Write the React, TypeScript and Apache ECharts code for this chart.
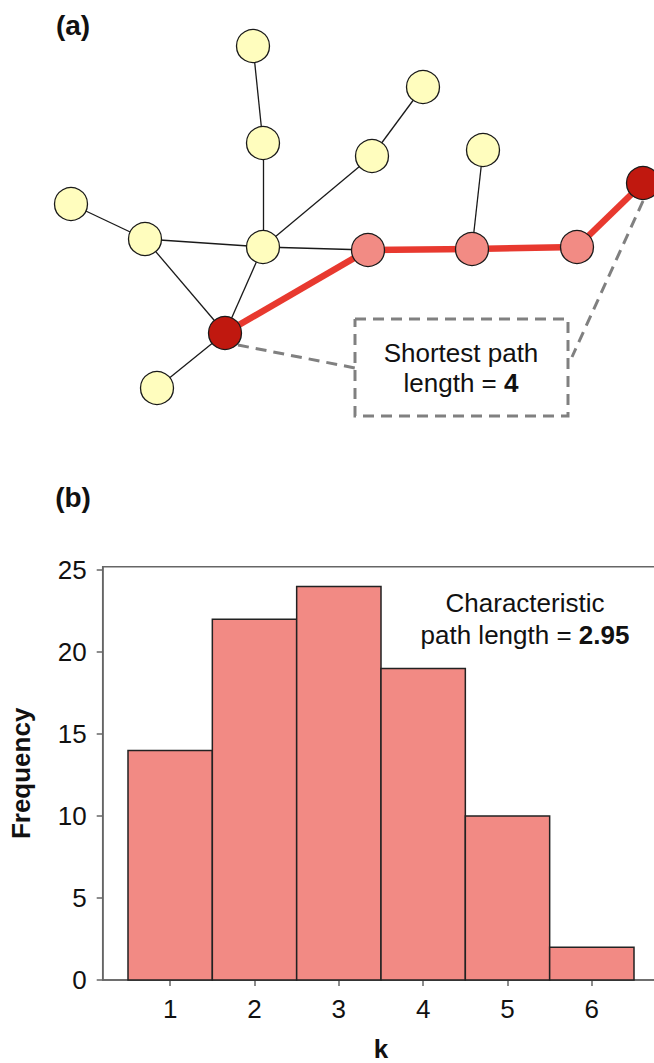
import React, { useEffect, useRef } from "react";
import * as echarts from "echarts";

const FONT = '"Liberation Sans", Arial, Helvetica, sans-serif';

// ---- Panel (a): network ----
const nodeNames = ["t0", "t1", "hub", "left", "l2", "r1", "r2", "p1", "p2", "p3", "t2", "end", "start", "bot"];
const nodeX = [253, 263, 263, 71, 145, 372, 423, 368, 472, 577, 483, 643, 225, 157];
const nodeY = [46, 143, 247, 204, 239, 156, 87, 250, 249, 247, 150, 183, 333, 388];
const nodeRole = ["plain", "plain", "plain", "plain", "plain", "plain", "plain", "path", "path", "path", "plain", "end", "end", "plain"];

const edgeSource = ["t0", "t1", "hub", "l2", "l2", "hub", "hub", "r1", "hub", "p2", "start", "start", "p1", "p2", "p3"];
const edgeTarget = ["t1", "hub", "l2", "left", "start", "start", "r1", "r2", "p1", "t2", "bot", "p1", "p2", "p3", "end"];
const edgeOnPath = [false, false, false, false, false, false, false, false, false, false, false, true, true, true, true];

const boxX = [355, 568];
const boxY = [319, 416];
const leaderLeft = [[238, 345], [355, 368]];
const leaderRight = [[643, 201], [572, 357]];

// ---- Panel (b): histogram ----
const kValues = [1, 2, 3, 4, 5, 6];
const frequency = [14, 22, 24, 19, 10, 2];
const yTicks = [0, 5, 10, 15, 20, 25];

const roleColor: Record<string, string> = {
  plain: "#FFFDBE",
  path: "#F28B84",
  end: "#C0180F",
};

export default function App() {
  const ref = useRef<HTMLDivElement>(null);

  useEffect(() => {
    if (!ref.current) return;
    const chart = echarts.init(ref.current, null, { renderer: "svg" });

    const pos: Record<string, [number, number]> = {};
    nodeNames.forEach((n, i) => (pos[n] = [nodeX[i], nodeY[i]]));

    const edgeData = edgeSource.map((s, i) => ({
      coords: [pos[s], pos[edgeTarget[i]]],
      lineStyle: edgeOnPath[i]
        ? { color: "#E8392F", width: 6.5, opacity: 1 }
        : { color: "#1a1a1a", width: 1.3, opacity: 1 },
    }));

    const nodeData = nodeNames.map((n, i) => ({
      name: n,
      value: [nodeX[i], nodeY[i]],
      itemStyle: { color: roleColor[nodeRole[i]], borderColor: "#1a1a1a", borderWidth: 1.3, opacity: 1 },
    }));

    const boxCoords = [
      [boxX[0], boxY[0]],
      [boxX[1], boxY[0]],
      [boxX[1], boxY[1]],
      [boxX[0], boxY[1]],
      [boxX[0], boxY[0]],
    ];

    const dashStyle = { color: "#808080", width: 3, type: [11, 7] as any, opacity: 1 };

    const option: any = {
      animation: false,
      backgroundColor: "#ffffff",
      textStyle: { fontFamily: FONT },
      grid: [
        { left: 0, top: 0, width: 654, height: 440, show: false, outerBoundsMode: "none", containLabel: false },
        {
          left: 102.7,
          top: 566.7,
          width: 556.6,
          height: 413.3,
          show: true,
          outerBoundsMode: "none",
          containLabel: false,
          borderColor: "#666666",
          borderWidth: 1.5,
          backgroundColor: "transparent",
        },
      ],
      xAxis: [
        { gridIndex: 0, type: "value", min: 0, max: 654, show: false },
        {
          gridIndex: 1,
          type: "value",
          min: 0.2,
          max: 6.8,
          interval: 0.2,
          name: "k",
          nameLocation: "middle",
          nameGap: 56,
          nameTextStyle: { fontFamily: FONT, fontSize: 26, fontWeight: "bold", color: "#111" },
          axisLine: { show: true, lineStyle: { color: "#666666", width: 1.5 } },
          axisTick: { show: true, length: 6, customValues: kValues, lineStyle: { color: "#666666", width: 1.5 } },
          axisLabel: {
            customValues: kValues,
            margin: 16,
            fontFamily: FONT,
            fontSize: 26,
            color: "#111",
          },
          splitLine: { show: false },
        },
      ],
      yAxis: [
        { gridIndex: 0, type: "value", min: 0, max: 440, inverse: true, show: false },
        {
          gridIndex: 1,
          type: "value",
          min: 0,
          max: 25.2,
          interval: 5,
          name: "Frequency",
          nameLocation: "middle",
          nameRotate: 90,
          nameGap: 69,
          nameTextStyle: { fontFamily: FONT, fontSize: 26, fontWeight: "bold", color: "#111" },
          axisLine: { show: true, lineStyle: { color: "#666666", width: 1.5 } },
          axisTick: { show: true, length: 6, customValues: yTicks, lineStyle: { color: "#666666", width: 1.5 } },
          axisLabel: {
            customValues: yTicks,
            margin: 16,
            fontFamily: FONT,
            fontSize: 26,
            color: "#111",
            formatter: (v: number) => (v % 5 === 0 ? String(v) : ""),
          },
          splitLine: { show: false },
        },
      ],
      series: [
        {
          type: "lines",
          coordinateSystem: "cartesian2d",
          xAxisIndex: 0,
          yAxisIndex: 0,
          z: 1,
          polyline: true,
          silent: true,
          lineStyle: dashStyle,
          data: [{ coords: boxCoords }, { coords: leaderLeft }, { coords: leaderRight }],
        },
        {
          type: "lines",
          coordinateSystem: "cartesian2d",
          xAxisIndex: 0,
          yAxisIndex: 0,
          z: 2,
          silent: true,
          data: edgeData,
        },
        {
          type: "scatter",
          xAxisIndex: 0,
          yAxisIndex: 0,
          z: 3,
          symbol: "circle",
          symbolSize: 33,
          silent: true,
          itemStyle: { opacity: 1 },
          data: nodeData,
        },
        {
          type: "custom",
          xAxisIndex: 1,
          yAxisIndex: 1,
          encode: { x: 0, y: 1 },
          data: kValues.map((k, i) => [k, frequency[i]]),
          renderItem: (params: any, api: any) => {
            const k = api.value(0);
            const v = api.value(1);
            const p0 = api.coord([k - 0.5, v]);
            const p1 = api.coord([k + 0.5, 0]);
            return {
              type: "rect",
              shape: { x: p0[0], y: p0[1], width: p1[0] - p0[0], height: p1[1] - p0[1] },
              style: { fill: "#F28A84", stroke: "#222222", lineWidth: 1.5 },
            };
          },
        },
      ],
      graphic: [
        {
          type: "text",
          x: 73,
          y: 25,
          style: {
            text: "(a)",
            font: `bold 28px ${FONT}`,
            fill: "#111",
            textAlign: "center",
            textVerticalAlign: "middle",
          },
        },
        {
          type: "text",
          x: 73,
          y: 497,
          style: {
            text: "(b)",
            font: `bold 28px ${FONT}`,
            fill: "#111",
            textAlign: "center",
            textVerticalAlign: "middle",
          },
        },
        {
          type: "text",
          x: 461,
          y: 368,
          z: 10,
          style: {
            text: "Shortest path\nlength = {b|4}",
            fontFamily: FONT,
            fontSize: 26,
            lineHeight: 30,
            fill: "#111",
            textAlign: "center",
            textVerticalAlign: "middle",
            rich: {
              b: { fontFamily: FONT, fontSize: 26, fontWeight: "bold", lineHeight: 30, fill: "#111" },
            },
          },
        },
        {
          type: "text",
          x: 525,
          y: 619,
          z: 10,
          style: {
            text: "Characteristic\npath length = {b|2.95}",
            fontFamily: FONT,
            fontSize: 26,
            lineHeight: 32,
            fill: "#111",
            textAlign: "center",
            textVerticalAlign: "middle",
            rich: {
              b: { fontFamily: FONT, fontSize: 26, fontWeight: "bold", lineHeight: 32, fill: "#111" },
            },
          },
        },
      ],
    };

    chart.setOption(option);
    return () => chart.dispose();
  }, []);

  return (
    <div
      ref={ref}
      style={{ position: "absolute", left: 0, top: 0, width: 654, height: 1063, background: "#fff" }}
    />
  );
}
